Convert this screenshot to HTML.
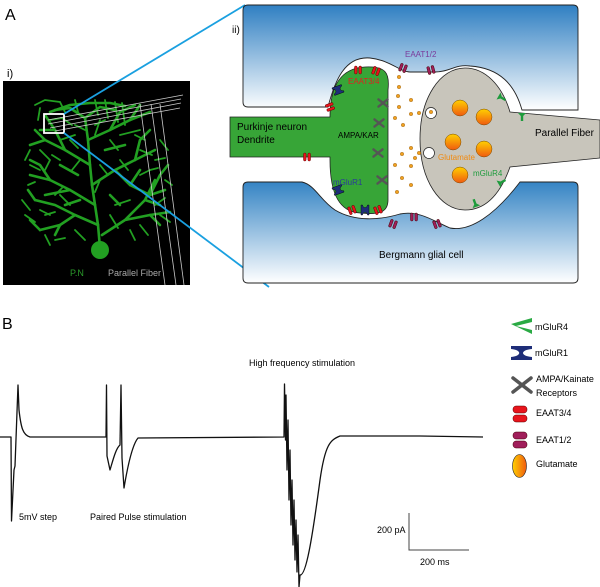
<!DOCTYPE html>
<html><head><meta charset="utf-8"><style>
html,body{margin:0;padding:0;background:#fff}
svg{display:block}
text{font-family:"Liberation Sans",sans-serif}
</style></head><body>
<svg width="600" height="587" viewBox="0 0 600 587" xmlns="http://www.w3.org/2000/svg">
<defs>
<linearGradient id="bt" x1="0" y1="0" x2="0" y2="1"><stop offset="0" stop-color="#2f7fc2"/><stop offset="1" stop-color="#ffffff"/></linearGradient>
<linearGradient id="bb" x1="0" y1="0" x2="0" y2="1"><stop offset="0" stop-color="#3584c4"/><stop offset="1" stop-color="#ffffff"/></linearGradient>
<linearGradient id="gl" x1="0" y1="0" x2="0" y2="1"><stop offset="0" stop-color="#ffd000"/><stop offset="1" stop-color="#f05a10"/></linearGradient>
<linearGradient id="gl2" x1="0" y1="0" x2="1" y2="0"><stop offset="0" stop-color="#ffd000"/><stop offset="1" stop-color="#f05a10"/></linearGradient>
<g id="eaat34"><rect x="-3.5" y="-4" width="2.6" height="8" rx="1.2" fill="#e8141c" stroke="#600" stroke-width="0.5"/><rect x="0.9" y="-4" width="2.6" height="8" rx="1.2" fill="#e8141c" stroke="#600" stroke-width="0.5"/></g>
<g id="eaat12"><rect x="-3.5" y="-4" width="2.6" height="8" rx="1.2" fill="#a01e5a" stroke="#400" stroke-width="0.5"/><rect x="0.9" y="-4" width="2.6" height="8" rx="1.2" fill="#a01e5a" stroke="#400" stroke-width="0.5"/></g>
<g id="mglur1"><path d="M-5,-4 L5,-4 L5,-2.5 C1.5,-2 1.5,2 5,2.5 L5,4 L-5,4 L-5,2.5 C-1.5,2 -1.5,-2 -5,-2.5 Z" fill="#1e2d78" stroke="#000" stroke-width="0.4"/></g>
<g id="ampa"><path d="M-5,-4 L5,4 M-5,4 L5,-4" stroke="#555" stroke-width="2.6" stroke-linecap="round"/></g>
<g id="mglur4"><path d="M-4,-4 L4,-4 L1.2,-1 L1.2,4 L-1.2,4 L-1.2,-1 Z" fill="#1e9b3c"/></g>
</defs>

<text x="5" y="20" font-size="16">A</text>
<text x="7" y="77" font-size="11">i)</text>

<!-- panel i -->
<rect x="3" y="81" width="187" height="204" fill="#000"/>
<g stroke="#22a022" stroke-width="2.6" fill="none" stroke-linecap="round" stroke-linejoin="round">
<path d="M100,248 L98,225 L95,205 L92,185 L90,165 L88,140 L85,118"/>
<path d="M98,225 L75,215 L55,205 L35,200 M75,215 L60,225 L40,230"/>
<path d="M95,205 L70,190 L50,180 L30,175 M70,190 L45,195"/>
<path d="M92,185 L115,170 L135,160 L155,150 M115,170 L130,185 L150,195 L165,190"/>
<path d="M90,165 L65,150 L45,140 L30,145 M65,150 L55,130 L45,115"/>
<path d="M88,140 L110,130 L130,120 L150,112 M110,130 L120,112"/>
<path d="M102,235 L125,220 L150,215 L170,212 M125,220 L145,200 L160,205"/>
<path d="M85,118 L70,108 L55,110 M85,118 L100,107 L115,110"/>
<path d="M40,230 L30,220 M35,200 L28,190 M50,180 L40,165 L30,160 M60,225 L55,235"/>
<path d="M135,160 L140,140 L150,130 M130,185 L140,170 M150,195 L160,175 L168,165"/>
<path d="M55,130 L40,130 M45,140 L35,130 M120,112 L135,105 M130,120 L140,105"/>
<path d="M150,215 L160,225 M145,200 L155,180"/>
<path d="M78,175 L60,165 M105,150 L125,145 M80,200 L65,205 M110,195 L120,205"/>
<path d="M50,112 L70,105 L90,103 L110,103 L125,106"/>
</g>
<g stroke="#22a022" stroke-width="1.8" fill="none" stroke-linecap="round">
<path d="M35,105 L45,100 L60,102 M60,102 L65,112 M75,100 L78,112 M95,100 L98,115 M105,100 L108,118 M115,102 L118,122 M122,103 L125,125 M40,108 L38,120 M50,120 L62,118 L72,125 M75,125 L85,130 M95,125 L105,120"/>
<path d="M30,150 L25,160 M30,165 L40,170 M28,185 L35,182 M22,200 L30,210 M25,215 L35,222 M45,235 L50,245 M55,240 L65,238 M40,210 L50,215 M55,195 L62,188"/>
<path d="M135,135 L145,140 M140,150 L152,155 M160,140 L168,150 M150,170 L158,168 M165,180 L172,185 M155,205 L165,198 M160,215 L170,222 M140,225 L148,235 M130,230 L135,240"/>
<path d="M70,140 L78,148 M60,160 L52,155 M80,160 L72,170 M100,165 L108,175 M100,180 L95,192 M110,140 L118,150 M120,160 L128,170 M75,230 L85,240 M110,215 L118,228"/>
<path d="M40,150 L50,160 L45,170 M60,140 L75,135 M100,120 L95,135 M120,135 L140,130 M60,195 L70,205 M140,175 L150,170 M115,205 L130,200 M45,215 L55,212 M155,160 L165,158"/>
</g>
<circle cx="100" cy="250" r="9" fill="#22a022"/>
<g stroke="#ccc" stroke-width="0.8" fill="none">
<line x1="48" y1="120" x2="183" y2="95"/><line x1="48" y1="124" x2="181" y2="99"/><line x1="50" y1="128" x2="181" y2="103"/><line x1="55" y1="131" x2="180" y2="108"/>
<line x1="140" y1="104" x2="165" y2="285"/><line x1="151" y1="104" x2="176" y2="285"/><line x1="160" y1="104" x2="184" y2="285"/>
</g>
<text x="70" y="276" font-size="9" fill="#2a9a2a">P.N</text>
<text x="108" y="276" font-size="9" fill="#aaa">Parallel Fiber</text>
<rect x="44" y="114" width="20" height="19" fill="none" stroke="#fff" stroke-width="1.8"/>
<line x1="64" y1="114" x2="245" y2="5" stroke="#1aa0e0" stroke-width="1.8"/>
<line x1="64" y1="133" x2="269" y2="287" stroke="#1aa0e0" stroke-width="1.8"/>

<!-- panel ii -->
<path d="M243,10 Q243,5 248,5 L573,5 Q578,5 578,10 L578,110 L522,110 C515,85 500,68 470,66 C455,64 450,72 435,72 L410,72 C400,72 390,60 370,58 C345,56 335,80 328,107 L248,107 Q243,107 243,102 Z" fill="url(#bt)" stroke="#222" stroke-width="0.9"/>
<path d="M243,187 Q243,182 248,182 L302,182 C315,185 320,200 335,210 C355,222 380,220 400,214 C420,210 435,222 450,228 C470,232 495,215 520,182 L573,182 Q578,182 578,187 L578,278 Q578,283 573,283 L248,283 Q243,283 243,278 Z" fill="url(#bb)" stroke="#222" stroke-width="0.9"/>
<text x="232" y="33" font-size="10">ii)</text>
<path d="M230,117 L330,117 C330,80 345,68 365,67 C385,66 390,72 388,90 L388,200 C388,212 380,215 360,213 C340,212 330,195 330,160 L330,157 L230,157 Z" fill="#37a537" stroke="#222" stroke-width="0.8"/>
<path d="M510,112 L600,120 L600,158 L510,167 C500,195 485,210 465,210 C440,210 420,180 420,139 C420,98 440,68 465,68 C485,68 502,85 510,112 Z" fill="#c8c5bb" stroke="#222" stroke-width="0.8"/>
<circle cx="431" cy="113" r="5.5" fill="#fff" stroke="#222" stroke-width="0.7"/>
<circle cx="429" cy="153" r="5.5" fill="#fff" stroke="#222" stroke-width="0.7"/>
<g fill="url(#gl)" stroke="#7a4a00" stroke-width="0.5">
<circle cx="460" cy="108" r="8"/><circle cx="484" cy="117" r="8"/><circle cx="453" cy="142" r="8"/><circle cx="484" cy="149" r="8"/><circle cx="460" cy="175" r="8"/>
</g>
<g fill="#f0a020" stroke="#704000" stroke-width="0.3">
<circle cx="399" cy="77" r="1.8"/><circle cx="399" cy="87" r="1.8"/><circle cx="411" cy="100" r="1.8"/><circle cx="398" cy="96" r="1.8"/><circle cx="399" cy="107" r="1.8"/><circle cx="411" cy="114" r="1.8"/><circle cx="419" cy="113" r="1.8"/><circle cx="431" cy="112" r="1.8"/><circle cx="395" cy="118" r="1.8"/><circle cx="403" cy="125" r="1.8"/><circle cx="411" cy="148" r="1.8"/><circle cx="402" cy="154" r="1.8"/><circle cx="419" cy="153" r="1.8"/><circle cx="415" cy="158" r="1.8"/><circle cx="395" cy="165" r="1.8"/><circle cx="411" cy="166" r="1.8"/><circle cx="402" cy="178" r="1.8"/><circle cx="411" cy="185" r="1.8"/><circle cx="397" cy="192" r="1.8"/>
</g>
<use href="#eaat34" transform="translate(358,70)"/><use href="#eaat34" transform="translate(376,71) rotate(20)"/><use href="#eaat34" transform="translate(330,107) rotate(70)"/><use href="#eaat34" transform="translate(307,157)"/><use href="#eaat34" transform="translate(352,210) rotate(-20)"/><use href="#eaat34" transform="translate(378,210) rotate(-20)"/>
<use href="#eaat12" transform="translate(403,68) rotate(20)"/><use href="#eaat12" transform="translate(431,70) rotate(-15)"/><use href="#eaat12" transform="translate(393,224) rotate(20)"/><use href="#eaat12" transform="translate(414,217)"/><use href="#eaat12" transform="translate(437,224) rotate(-20)"/>
<use href="#mglur1" transform="translate(338,90) rotate(-20)"/><use href="#mglur1" transform="translate(338,190) rotate(-20)"/><use href="#mglur1" transform="translate(365,210) rotate(90)"/>
<use href="#ampa" transform="translate(383,103) scale(0.9)"/><use href="#ampa" transform="translate(379,123) scale(0.9)"/><use href="#ampa" transform="translate(378,153) scale(0.9)"/><use href="#ampa" transform="translate(382,180) scale(0.9)"/>
<use href="#mglur4" transform="translate(502,98) rotate(-60)"/><use href="#mglur4" transform="translate(522,117)"/><use href="#mglur4" transform="translate(502,182) rotate(-120)"/><use href="#mglur4" transform="translate(475,203) rotate(160)"/>
<text x="405" y="57" font-size="8" fill="#7a3a9a">EAAT1/2</text>
<text x="348" y="84" font-size="8" fill="#e02020">EAAT3/4</text>
<text x="338" y="138" font-size="8">AMPA/KAR</text>
<text x="237" y="130" font-size="10">Purkinje neuron</text>
<text x="237" y="143" font-size="10">Dendrite</text>
<text x="333" y="185" font-size="8" fill="#2a3a9a">mGluR1</text>
<text x="438" y="160" font-size="8" fill="#f08a10">Glutamate</text>
<text x="473" y="176" font-size="8" fill="#1e9b3c">mGluR4</text>
<text x="535" y="136" font-size="10">Parallel Fiber</text>
<text x="379" y="258" font-size="10">Bergmann glial cell</text>

<!-- panel B -->
<text x="2" y="329" font-size="16">B</text>
<path d="M0,437 L11,437 L11.5,521 L14,470 L15,466 L18,385 L19,410 C21,428 23,435 30,437 L106,437 L106.5,385 L107,456 L110,470 C113,460 116,448 120,445 L121,385 L122,458 L124,488 C127,470 132,445 138,438 L284,437 L284.5,384 L285.5,440 L286,395 L287,470 L288,420 L289,500 L290,450 L291,525 L292,480 L293,545 L294,500 L295,560 L296,520 L297,572 L298,535 L299,587 L300,575 C306,576 312,540 320,480 C325,445 330,440 340,436 L420,436 L483,437" fill="none" stroke="#111" stroke-width="1.3" stroke-linejoin="round"/>
<text x="19" y="520" font-size="9">5mV step</text>
<text x="90" y="520" font-size="9">Paired Pulse stimulation</text>
<text x="249" y="366" font-size="9">High frequency stimulation</text>
<path d="M409,513 L409,550 L469,550" fill="none" stroke="#444" stroke-width="1"/>
<text x="377" y="533" font-size="9">200 pA</text>
<text x="420" y="565" font-size="9">200 ms</text>

<!-- legend -->
<path d="M511,324 L532,318 L532,322 L516,326 L532,330 L532,334 Z" fill="#2aaa44"/>
<text x="535" y="330" font-size="9">mGluR4</text>
<path d="M511,346 L532,346 L532,349 C520,350 520,356 532,357 L532,360 L511,360 L511,357 C522,356 522,350 511,349 Z" fill="#1e2d78"/>
<text x="535" y="356" font-size="9">mGluR1</text>
<path d="M513,378 L531,392 M513,392 L531,378" stroke="#555" stroke-width="3.5" fill="none" stroke-linecap="round"/>
<text x="536" y="382" font-size="9">AMPA/Kainate</text>
<text x="536" y="396" font-size="9">Receptors</text>
<rect x="513" y="406" width="14" height="7" rx="3" fill="#e8141c" stroke="#500" stroke-width="0.5"/>
<rect x="513" y="415" width="14" height="7" rx="3" fill="#e8141c" stroke="#500" stroke-width="0.5"/>
<text x="536" y="416" font-size="9">EAAT3/4</text>
<rect x="513" y="432" width="14" height="7" rx="3" fill="#a01e5a" stroke="#400" stroke-width="0.5"/>
<rect x="513" y="441" width="14" height="7" rx="3" fill="#a01e5a" stroke="#400" stroke-width="0.5"/>
<text x="536" y="443" font-size="9">EAAT1/2</text>
<ellipse cx="519.5" cy="466" rx="7" ry="11.5" fill="url(#gl2)" stroke="#222" stroke-width="0.6"/>
<text x="536" y="467" font-size="9">Glutamate</text>
</svg>
</body></html>
